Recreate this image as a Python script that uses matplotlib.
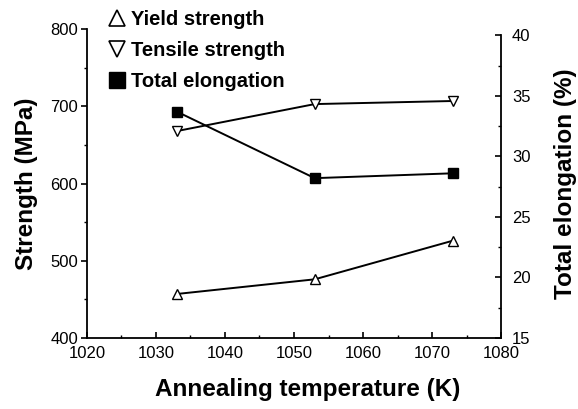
import matplotlib
matplotlib.use("Agg")
import matplotlib.pyplot as plt
from matplotlib.lines import Line2D
from matplotlib.ticker import MultipleLocator

plt.rcParams['font.family'] = ['Liberation Sans', 'DejaVu Sans']

# data
temps = [1033, 1053, 1073]              # annealing temperature (K)
yield_str = [457, 476, 526]             # MPa
tensile_str = [668, 703, 707]           # MPa
elongation = [33.7, 28.2, 28.6]         # %

fig = plt.figure(figsize=(5.78, 4.09), dpi=100)
ax = fig.add_axes([0.1505, 0.1736, 0.7163, 0.755])
ax2 = ax.twinx()

# strength lines (open triangles)
ax.plot(temps, yield_str, color='k', lw=1.4, marker='^', ms=7,
        mfc='white', mec='k', mew=1.0, zorder=3)
ax.plot(temps, tensile_str, color='k', lw=1.4, marker='v', ms=7,
        mfc='white', mec='k', mew=1.0, zorder=3)
# elongation (filled squares)
ax2.plot(temps, elongation, color='k', lw=1.4, marker='s', ms=6.5,
         mfc='k', mec='k', zorder=3)

ax.set_xlim(1020, 1080)
ax.set_ylim(400, 800)
ax2.set_ylim(15, 40.5)

ax.xaxis.set_major_locator(MultipleLocator(10))
ax.xaxis.set_minor_locator(MultipleLocator(5))
ax.yaxis.set_major_locator(MultipleLocator(100))
ax.yaxis.set_minor_locator(MultipleLocator(50))
ax2.yaxis.set_major_locator(MultipleLocator(5))
ax2.yaxis.set_minor_locator(MultipleLocator(2.5))

for a in (ax, ax2):
    a.spines['top'].set_visible(False)
    for s in a.spines.values():
        s.set_linewidth(1.3)
ax.spines['right'].set_visible(False)
ax2.spines['left'].set_visible(False)
ax2.spines['bottom'].set_visible(False)
ax2.spines['right'].set_bounds(15, 40)

ax.tick_params(axis='x', direction='in', length=4, width=1.2, labelsize=12, pad=6)
ax.tick_params(axis='x', which='minor', direction='in', length=2.5, width=1)
ax.tick_params(axis='y', direction='out', length=4.5, width=1.2, labelsize=12, pad=2)
ax.tick_params(axis='y', which='minor', direction='out', length=2.5, width=1)
ax2.tick_params(axis='y', direction='in', length=4, width=1.2, labelsize=12, pad=8)
ax2.tick_params(axis='y', which='minor', direction='in', length=2.5, width=1)

ax.set_xlabel('Annealing temperature (K)', fontsize=17.5, fontweight='bold', labelpad=12)
ax.xaxis.label.set_x(0.534)
ax.set_ylabel('Strength (MPa)', fontsize=17.5, fontweight='bold', labelpad=9)
ax2.set_ylabel('Total elongation (%)', fontsize=17.5, fontweight='bold',
               rotation=90, labelpad=17)

handles = [
    Line2D([], [], ls='none', marker='^', ms=12, mfc='white', mec='k', mew=1.2),
    Line2D([], [], ls='none', marker='v', ms=12, mfc='white', mec='k', mew=1.2),
    Line2D([], [], ls='none', marker='s', ms=12, mfc='k', mec='k'),
]
labels = ['Yield strength', 'Tensile strength', 'Total elongation']
fig.legend(handles, labels, loc='upper left', bbox_to_anchor=(0.168, 1.005),
           bbox_transform=fig.transFigure, frameon=False, borderpad=0.1,
           handlelength=0.8, handletextpad=0.3, labelspacing=0.6,
           prop={'size': 14.5, 'weight': 'bold'})

fig.savefig('out.png', dpi=100)
